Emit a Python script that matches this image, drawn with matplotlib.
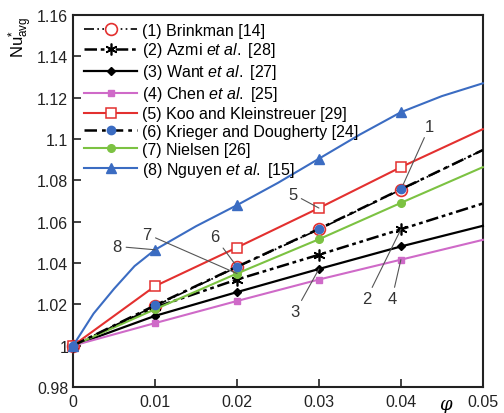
"""
Nu*_avg 随体积分数 φ 的变化 (8 种粘度/导热模型对比)
"""
import matplotlib
matplotlib.use('Agg')
import matplotlib.pyplot as plt
from matplotlib.ticker import FuncFormatter

plt.rcParams['font.family'] = ['Liberation Sans', 'DejaVu Sans']
plt.rcParams['mathtext.fontset'] = 'custom'
plt.rcParams['mathtext.rm'] = 'Liberation Sans'
plt.rcParams['mathtext.it'] = 'Liberation Sans:italic'

# === 数据 ===
phi = [0, 0.01, 0.02, 0.03, 0.04, 0.05]
brinkman = [1, 1.0192, 1.038, 1.0563, 1.0755, 1.0947]
azmi = [1, 1.0185, 1.032, 1.044, 1.0563, 1.0688]
want = [1, 1.0144, 1.0259, 1.0371, 1.048, 1.058]
chen = [1, 1.0109, 1.0216, 1.032, 1.0416, 1.0512]
koo = [1, 1.0288, 1.0475, 1.0666, 1.0864, 1.1048]
krieger = [1, 1.0195, 1.0382, 1.0565, 1.0757, 1.0947]
nielsen = [1, 1.0176, 1.0349, 1.0515, 1.0691, 1.0864]

# Nguyen 曲线弯曲明显, 多读几个点
phi_nguyen = [0, 0.0025, 0.005, 0.0075, 0.01, 0.015, 0.02, 0.025, 0.03,
              0.035, 0.04, 0.045, 0.05]
nguyen = [1, 1.0155, 1.0275, 1.0385, 1.0464, 1.0578, 1.068, 1.0788, 1.0905,
          1.1022, 1.113, 1.1208, 1.127]
nguyen_marks = [0, 4, 6, 8, 10]

labels = [
    '(1) Brinkman [14]',
    r'(2) Azmi $\mathit{et\ al.}$ [28]',
    r'(3) Want $\mathit{et\ al.}$ [27]',
    r'(4) Chen $\mathit{et\ al.}$ [25]',
    '(5) Koo and Kleinstreuer [29]',
    '(6) Krieger and Dougherty [24]',
    '(7) Nielsen [26]',
    r'(8) Nguyen $\mathit{et\ al.}$ [15]',
]

# 曲线编号标注: (编号, 文字位置, 指向点)
notes = [
    ('1', (0.0435, 1.1063), (0.04, 1.0755)),
    ('2', (0.0358, 1.0226), (0.04, 1.0563)),
    ('3', (0.0271, 1.0163), (0.03, 1.0371)),
    ('4', (0.0389, 1.0226), (0.04, 1.0416)),
    ('5', (0.0268, 1.0734), (0.03, 1.0666)),
    ('6', (0.0173, 1.0526), (0.02, 1.0382)),
    ('7', (0.0090, 1.0540), (0.02, 1.0349)),
    ('8', (0.0054, 1.0480), (0.01, 1.0464)),
]

fig = plt.figure(figsize=(5.04, 4.14), dpi=100)
ax = fig.add_axes([0.145, 0.063, 0.813, 0.898])

blue = '#3b6cc2'
red = '#e3302f'
green = '#7cc242'
violet = '#cf6ac8'

mk = [0, 1, 2, 3, 4]
ax.plot(phi, brinkman, color='black', lw=1.2, ls=(0, (6, 2, 1, 2, 1, 2)),
        marker='o', ms=8.5, mfc='white', mec=red, mew=1.2, markevery=mk,
        label=labels[0], clip_on=False, zorder=3)
ax.plot(phi, azmi, color='black', lw=1.8, ls=(0, (5, 1.5, 1.5, 1.5, 1.5, 1.5)),
        marker=(6, 2, 0), ms=8.5, mec='black', mew=1.2, markevery=mk,
        label=labels[1], clip_on=False, zorder=3)
ax.plot(phi, want, color='black', lw=1.6, ls='-',
        marker='D', ms=4.5, mfc='black', mec='black', markevery=mk,
        label=labels[2], clip_on=False, zorder=3)
ax.plot(phi, chen, color=violet, lw=1.5, ls='-',
        marker='s', ms=4.8, mfc=violet, mec=violet, markevery=mk,
        label=labels[3], clip_on=False, zorder=3)
ax.plot(phi, koo, color=red, lw=1.5, ls='-',
        marker='s', ms=6.5, mfc='white', mec=red, mew=1.1, markevery=mk,
        label=labels[4], clip_on=False, zorder=3)
ax.plot(phi, krieger, color='black', lw=1.8, ls=(0, (5, 2, 1.5, 2)),
        marker='o', ms=6, mfc=blue, mec=blue, markevery=mk,
        label=labels[5], clip_on=False, zorder=4)
ax.plot(phi, nielsen, color=green, lw=1.5, ls='-',
        marker='o', ms=5.5, mfc=green, mec=green, markevery=mk,
        label=labels[6], clip_on=False, zorder=3)
ax.plot(phi_nguyen, nguyen, color=blue, lw=1.5, ls='-',
        marker='^', ms=6.5, mfc=blue, mec=blue, markevery=nguyen_marks,
        label=labels[7], clip_on=False, zorder=3)

for txt, xy_text, xy in notes:
    ax.annotate(txt, xy=xy, xytext=xy_text, fontsize=12, color='#333333',
                ha='center', va='center',
                arrowprops=dict(arrowstyle='-', color='#555555', lw=0.8,
                                shrinkA=1, shrinkB=0))

ax.set_xlim(0, 0.05)
ax.set_ylim(0.98, 1.16)
ax.set_xticks([0, 0.01, 0.02, 0.03, 0.04, 0.05])
ax.set_yticks([0.98, 1, 1.02, 1.04, 1.06, 1.08, 1.1, 1.12, 1.14, 1.16])
ax.xaxis.set_major_formatter(FuncFormatter(lambda v, _: f'{v:g}'))
ax.yaxis.set_major_formatter(FuncFormatter(lambda v, _: f'{round(v, 2):g}'))
ax.tick_params(direction='in', length=6, width=1.2, labelsize=11.5,
               top=False, right=False, colors='#222222')
ax.tick_params(axis='x', pad=5)
for sp in ax.spines.values():
    sp.set_linewidth(1.5)
    sp.set_color('#222222')

ax.text(-0.127, 1.0, r'Nu$^{*}_{\mathrm{avg}}$', transform=ax.transAxes,
        rotation=90, ha='center', va='top', fontsize=12)
ax.annotate('φ', xy=(0.0454, -0.045), xycoords=('data', 'axes fraction'),
            ha='center', va='center', fontsize=13, style='italic',
            family='DejaVu Serif')

ax.legend(loc='upper left', bbox_to_anchor=(0.0, 1.01), frameon=False,
          fontsize=11.5, handlelength=3.3, handletextpad=0.3,
          labelspacing=0.18, numpoints=1, borderaxespad=0.3)

fig.savefig('out.png', dpi=100)
